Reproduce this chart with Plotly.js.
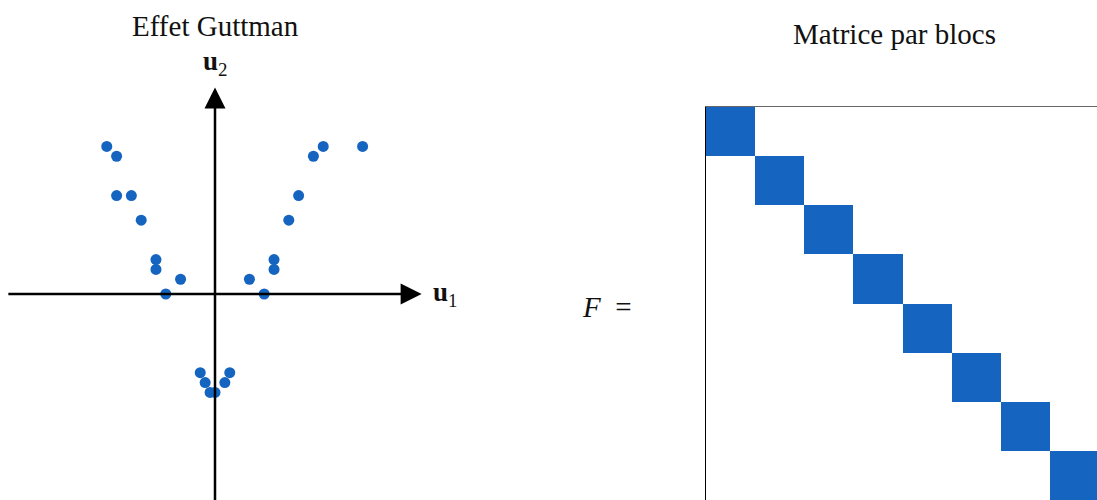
<!DOCTYPE html>
<html>
<head>
<meta charset="utf-8">
<script src="https://cdn.plot.ly/plotly-3.0.1.min.js"></script>
<style>
  html, body { margin: 0; padding: 0; background: #fff; }
  #plot { width: 1097px; height: 500px; }
</style>
</head>
<body>
<div id="plot"></div>
<script>
// Guttman effect: projections on the first two axes
const u1 = [-2.2, -2.0, -2.0, -1.7, -1.5, -1.2, -1.2, -0.7, -1.0,
            0.7, 1.0, 1.2, 1.2, 1.5, 1.7, 2.0, 2.2, 3.0,
            -0.3, -0.2, -0.1, 0.0, 0.2, 0.3]
const u2 = [3.0, 2.8, 2.0, 2.0, 1.5, 0.7, 0.5, 0.3, 0.0,
            0.3, 0.0, 0.7, 0.5, 1.5, 2.0, 2.8, 3.0, 3.0,
            -1.6, -1.8, -2.0, -2.0, -1.8, -1.6]

// block diagonal matrix, 8 blocks
const blockIdx = [0, 1, 2, 3, 4, 5, 6, 7]
const F = blockIdx.map(function (i) {
    return blockIdx.map(function (j) { return i === j ? 1 : 0 })
})

const blue = '#1565C0'
const axisLen = 4.2
const font = 'Liberation Serif, DejaVu Serif, serif'

const points = {
    x: u1,
    y: u2,
    type: 'scatter',
    mode: 'markers',
    marker: { color: blue, size: 11 },
    xaxis: 'x',
    yaxis: 'y',
    hoverinfo: 'skip'
}

const arrows = {
    x: [axisLen, 0],
    y: [0, axisLen],
    type: 'scatter',
    mode: 'markers',
    marker: { symbol: ['arrow-right', 'arrow-up'], size: 21, color: 'black', line: { width: 0 } },
    xaxis: 'x',
    yaxis: 'y',
    hoverinfo: 'skip'
}

const matrix = {
    z: F,
    x: blockIdx.map(function (i) { return i + 0.5 }),
    y: blockIdx.map(function (i) { return i + 0.5 }),
    type: 'heatmap',
    colorscale: [[0, '#ffffff'], [1, blue]],
    zmin: 0,
    zmax: 1,
    showscale: false,
    xaxis: 'x2',
    yaxis: 'y2',
    hoverinfo: 'skip'
}

const hidden = { visible: true, showgrid: false, zeroline: false, showticklabels: false, ticks: '', fixedrange: true }

function label(text, xref, yref, x, y, size) {
    return { text: text, xref: xref, yref: yref, x: x, y: y, xanchor: 'center', yanchor: 'middle',
             showarrow: false, font: { size: size } }
}

const layout = {
    width: 1097,
    height: 500,
    margin: { l: 0, r: 0, t: 0, b: 0 },
    paper_bgcolor: '#fff',
    plot_bgcolor: 'rgba(0,0,0,0)',
    showlegend: false,
    font: { family: font, color: '#111' },
    xaxis: { ...hidden, domain: [0, 500 / 1097], range: [-4.37, 5.793] },
    yaxis: { ...hidden, domain: [0, 1], range: [-4.187, 5.976] },
    xaxis2: { ...hidden, domain: [706 / 1097, 1], range: [0, 7.95], side: 'top', anchor: 'y2',
              showline: true, linecolor: '#666', linewidth: 1 },
    yaxis2: { ...hidden, domain: [0, 393 / 500], range: [7.99, 0], anchor: 'x2',
              showline: true, linecolor: '#000', linewidth: 1 },
    shapes: [
        { type: 'line', xref: 'x', yref: 'y', x0: -axisLen, x1: axisLen - 0.3, y0: 0, y1: 0,
          line: { color: 'black', width: 2.5 } },
        { type: 'line', xref: 'x', yref: 'y', x0: 0, x1: 0, y0: -axisLen - 0.2, y1: axisLen - 0.3,
          line: { color: 'black', width: 2.5 } }
    ],
    annotations: [
        label('Effet Guttman', 'paper', 'paper', 215 / 1097, 1 - 26 / 500, 29),
        label('<b>u</b><sub>2</sub>', 'x', 'y', 0, 4.7, 27),
        label('<b>u</b><sub>1</sub>', 'x', 'y', 4.67, 0, 27),
        label('Matrice par blocs', 'paper', 'paper', 894 / 1097, 1 - 34 / 500, 29),
        label('<i>F</i>&nbsp;&nbsp;=', 'paper', 'paper', 607 / 1097, 1 - 307 / 500, 29)
    ]
}

Plotly.newPlot('plot', [matrix, points, arrows], layout, { displayModeBar: false, staticPlot: true })
</script>
</body>
</html>
